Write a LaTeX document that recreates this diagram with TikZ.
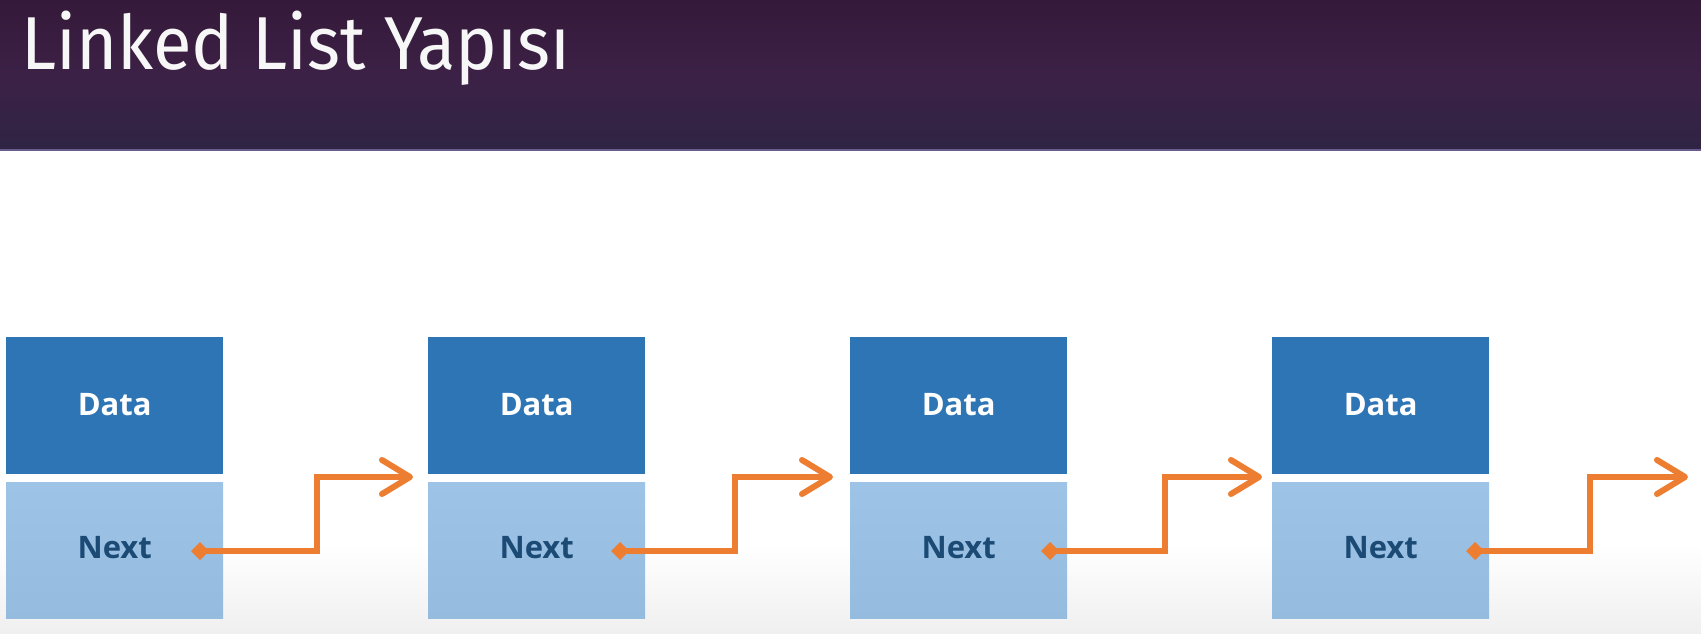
\documentclass[tikz,border=0pt]{standalone}
\usepackage{fontspec}
\usepackage{graphicx}
\setmainfont{Open Sans}
\newfontfamily\titlefont{Fira Sans}
\usetikzlibrary{arrows.meta,calc}
\definecolor{databl}{HTML}{2E75B6}
\definecolor{nextbl}{HTML}{9DC3E6}
\definecolor{nextbot}{HTML}{95BBDF}
\definecolor{nexttx}{HTML}{1B4A75}
\definecolor{arrorg}{HTML}{ED7D31}
\definecolor{bartop}{HTML}{35193A}
\definecolor{barmid}{HTML}{3C2146}
\definecolor{barbot}{HTML}{2F2444}
\definecolor{barline}{HTML}{6A5C8C}
\definecolor{floorgray}{HTML}{EFEFEF}
\begin{document}
\begin{tikzpicture}[x=1pt,y=-1pt,
  databox/.style={fill=databl, minimum width=217pt, minimum height=137pt,
    inner sep=0pt, text=white, anchor=north west,
    font=\bfseries\fontsize{31}{31}\selectfont},
  nextbox/.style={top color=nextbl, bottom color=nextbot, draw=none,
    minimum width=217pt, minimum height=136pt,
    inner sep=0pt, text=nexttx, anchor=north west,
    font=\bfseries\fontsize{31}{31}\selectfont},
  link/.style={draw=arrorg, line width=6pt,
    {Diamond[length=18pt,width=18pt]}-{Straight Barb[length=28pt,width=34pt,round]}}
]
\useasboundingbox (0,0) rectangle (1701,634);
\fill[white] (0,0) rectangle (1701,634);
\shade[top color=white, bottom color=floorgray] (0,545) rectangle (1701,634);
\shade[top color=bartop, bottom color=barbot, middle color=barmid] (0,0) rectangle (1701,150);
\fill[barline] (0,149) rectangle (1701,151);
\node[anchor=base west, inner sep=0pt, text=white!94!gray,
  font=\titlefont\fontsize{75}{75}\selectfont] (title) at (21,70) {\scalebox{0.94}[1]{Linked List Yapısı}};

% nodes
\node[databox] (d1) at (6,337)    {\raisebox{3pt}{Data}};
\node[nextbox] (n1) at (6,482)    {\raisebox{6pt}{Next}};
\node[databox] (d2) at (428,337)  {\raisebox{3pt}{Data}};
\node[nextbox] (n2) at (428,482)  {\raisebox{6pt}{Next}};
\node[databox] (d3) at (850,337)  {\raisebox{3pt}{Data}};
\node[nextbox] (n3) at (850,482)  {\raisebox{6pt}{Next}};
\node[databox] (d4) at (1272,337) {\raisebox{3pt}{Data}};
\node[nextbox] (n4) at (1272,482) {\raisebox{6pt}{Next}};

% link coordinates
\coordinate (s1) at (191,551);  \coordinate (v1) at (317,477);  \coordinate (e1) at (413,477);
\coordinate (s2) at (611,551);  \coordinate (v2) at (735,477);  \coordinate (e2) at (833,477);
\coordinate (s3) at (1041,551); \coordinate (v3) at (1165,477); \coordinate (e3) at (1262,477);
\coordinate (s4) at (1466,551); \coordinate (v4) at (1590,477); \coordinate (e4) at (1688,477);

\draw[link] (s1) -| (v1) -- (e1);
\draw[link] (s2) -| (v2) -- (e2);
\draw[link] (s3) -| (v3) -- (e3);
\draw[link] (s4) -| (v4) -- (e4);
\end{tikzpicture}
\end{document}
